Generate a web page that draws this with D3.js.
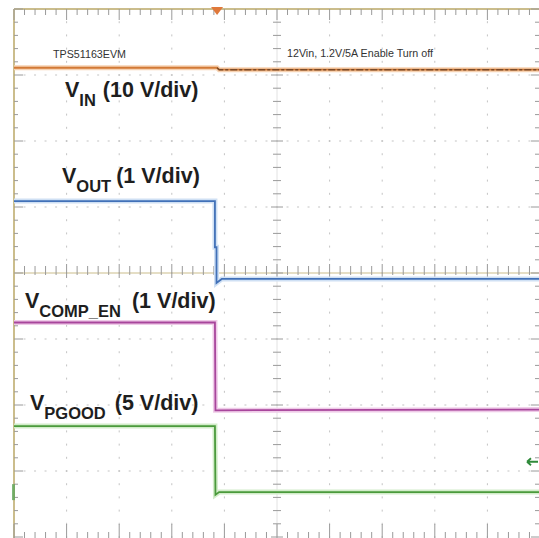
<!DOCTYPE html>
<html>
<head>
<meta charset="utf-8">
<script src="https://cdn.jsdelivr.net/npm/d3@7"></script>
<style>
  html, body { margin: 0; padding: 0; background: #fff; }
  svg { display: block; }
</style>
</head>
<body>
<svg width="539" height="538"></svg>
<script>
const width = 539;
const height = 538;

// screen: 10 x 8 divisions, values below are in divisions from screen centre
const xDivs = [0, 10];
const yDivs = [-4, 4];

// traces (time in div, level in div)
const vinT = [0, 3.86, 3.9, 10];
const vinV = [3.11, 3.11, 3.08, 3.08];

const voutT = [0, 3.82, 3.82, 3.85, 3.85, 3.95, 10];
const voutV = [1.09, 1.09, 0.39, 0.39, -0.15, -0.09, -0.09];

const compT = [0, 3.82, 3.83, 10];
const compV = [-0.75, -0.75, -2.08, -2.07];

const pgoodT = [0, 3.82, 3.83, 3.9, 10];
const pgoodV = [-2.32, -2.32, -3.36, -3.32, -3.32];

const triggerT = 3.86;
const triggerLevel = -2.86;
const pgoodGround = -3.32;

const headerLeft = "TPS51163EVM";
const headerRight = "12Vin, 1.2V/5A Enable Turn off";

const labelMain = ["V", "V", "V", "V"];
const labelSub = ["IN", "OUT", "COMP_EN", "PGOOD"];
const labelScale = ["(10 V/div)", "(1 V/div)", "(1 V/div)", "(5 V/div)"];

// layout
const plot = { left: 14, right: 540, top: 9, bottom: 537 };
const labelPos = [[65, 97], [62, 183], [25, 308], [30, 410]];
const labelGap = [7, 5, 11, 9];

const svg = d3.select("svg");

const x = d3.scaleLinear().domain(xDivs).range([plot.left, plot.right]);
const y = d3.scaleLinear().domain(yDivs).range([plot.bottom, plot.top]);

const frameColor = "#cbbd8c";
const tickColor = "#9a9a9a";
const dotColor = "#c4c4c4";

const minorX = d3.range(0, 10.001, 0.2);
const minorY = d3.range(-4, 4.001, 0.2);
const isMajor = v => Math.abs(v - Math.round(v)) < 1e-6;

const grid = svg.append("g");

// dotted graticule
const dots = [];
d3.range(1, 10).filter(d => d !== 5).forEach(gx => {
  minorY.forEach(v => dots.push({ x: x(gx) - 0.5, y: y(v) - 1, w: 1, h: 2 }));
});
d3.range(-3, 4).filter(d => d !== 0).forEach(gy => {
  minorX.forEach(v => dots.push({ x: x(v) - 1, y: y(gy) - 0.5, w: 2, h: 1 }));
});
grid.selectAll("rect.dot")
  .data(dots)
  .enter().append("rect")
  .attr("class", "dot")
  .attr("x", d => d.x)
  .attr("y", d => d.y)
  .attr("width", d => d.w)
  .attr("height", d => d.h)
  .attr("fill", dotColor);

// centre axes
grid.append("line")
  .attr("x1", x(0)).attr("x2", x(10))
  .attr("y1", y(0)).attr("y2", y(0))
  .attr("stroke", frameColor).attr("stroke-width", 1.2);
grid.append("line")
  .attr("x1", x(5)).attr("x2", x(5))
  .attr("y1", y(4)).attr("y2", y(-4))
  .attr("stroke", "#e2e2e2").attr("stroke-width", 1);

grid.selectAll("line.cxt")
  .data(minorX)
  .enter().append("line")
  .attr("x1", d => x(d)).attr("x2", d => x(d))
  .attr("y1", d => y(0) - (isMajor(d) ? 9 : 7))
  .attr("y2", d => y(0) + (isMajor(d) ? 5 : 2))
  .attr("stroke", tickColor).attr("stroke-width", 1);

grid.selectAll("line.cyt")
  .data(minorY)
  .enter().append("line")
  .attr("x1", d => x(5) - (isMajor(d) ? 6 : 4))
  .attr("x2", d => x(5) + (isMajor(d) ? 6 : 4))
  .attr("y1", d => y(d)).attr("y2", d => y(d))
  .attr("stroke", tickColor).attr("stroke-width", 1);

// frame with ticks
grid.append("line")
  .attr("x1", x(0)).attr("x2", x(10))
  .attr("y1", y(4)).attr("y2", y(4))
  .attr("stroke", frameColor).attr("stroke-width", 2);
grid.append("line")
  .attr("x1", x(0)).attr("x2", x(0))
  .attr("y1", y(4)).attr("y2", height)
  .attr("stroke", frameColor).attr("stroke-width", 2);

grid.selectAll("line.tt")
  .data(minorX)
  .enter().append("line")
  .attr("x1", d => x(d)).attr("x2", d => x(d))
  .attr("y1", y(4))
  .attr("y2", d => y(4) + (isMajor(d) ? 11 : 6))
  .attr("stroke", tickColor).attr("stroke-width", 1);

grid.selectAll("line.bt")
  .data(minorX)
  .enter().append("line")
  .attr("x1", d => x(d)).attr("x2", d => x(d))
  .attr("y1", y(-4) + 1)
  .attr("y2", d => y(-4) - (isMajor(d) ? 13 : 5))
  .attr("stroke", tickColor).attr("stroke-width", 1);

grid.selectAll("line.lt")
  .data(minorY)
  .enter().append("line")
  .attr("x1", x(0))
  .attr("x2", d => x(0) + (isMajor(d) ? 9 : 4))
  .attr("y1", d => y(d)).attr("y2", d => y(d))
  .attr("stroke", tickColor).attr("stroke-width", 1);

grid.selectAll("line.rt")
  .data(minorY)
  .enter().append("line")
  .attr("x1", x(10))
  .attr("x2", d => x(10) - (isMajor(d) ? 9 : 5))
  .attr("y1", d => y(d)).attr("y2", d => y(d))
  .attr("stroke", tickColor).attr("stroke-width", 1);

// traces
const line = d3.line()
  .x(d => x(d[0]))
  .y(d => y(d[1]));

const traces = [
  { t: vinT, v: vinV, color: "#d27a36", halo: "#f6d2b2" },
  { t: voutT, v: voutV, color: "#4271b8", halo: "#cfe0f4" },
  { t: compT, v: compV, color: "#a8469c", halo: "#efcbe8" },
  { t: pgoodT, v: pgoodV, color: "#4b9a3c", halo: "#d2ecc9" }
];

const tg = svg.append("g");
traces.forEach(tr => {
  const pts = tr.t.map((t, i) => [t, tr.v[i]]);
  tg.append("path")
    .datum(pts)
    .attr("fill", "none")
    .attr("stroke", tr.halo)
    .attr("stroke-width", 5)
    .attr("d", line);
  tg.append("path")
    .datum(pts)
    .attr("fill", "none")
    .attr("stroke", tr.color)
    .attr("stroke-width", 1.8)
    .attr("d", line);
});

// noisy part of VIN after the trigger
tg.append("path")
  .datum(vinT.map((t, i) => [t, vinV[i]]).filter(d => d[0] >= triggerT))
  .attr("fill", "none")
  .attr("stroke", "#7a4a28")
  .attr("stroke-width", 1.4)
  .attr("stroke-dasharray", "7,2,3,2")
  .attr("d", line);

// trigger position marker
tg.append("path")
  .attr("d", `M${x(triggerT) - 6},${y(4) - 2} L${x(triggerT) + 6},${y(4) - 2} L${x(triggerT)},${y(4) + 6} Z`)
  .attr("fill", "#e0783a");

// trigger level arrow (right edge)
const ty = y(triggerLevel);
tg.append("path")
  .attr("d", `M${width - 1},${ty} L${width - 12},${ty} M${width - 12},${ty} L${width - 8},${ty - 3.5} M${width - 12},${ty} L${width - 8},${ty + 3.5}`)
  .attr("stroke", "#2f8a3a")
  .attr("stroke-width", 1.8)
  .attr("fill", "none");

// channel ground marker (left edge)
tg.append("rect")
  .attr("x", x(0) - 2)
  .attr("y", y(pgoodGround) - 8)
  .attr("width", 3)
  .attr("height", 16)
  .attr("fill", "#5fa65a")
  .attr("opacity", 0.8);

// header texts
svg.append("text")
  .attr("x", 53).attr("y", 58)
  .attr("font-family", "'Liberation Sans Narrow', 'Liberation Sans', Arial, sans-serif")
  .attr("font-size", 11.5)
  .attr("fill", "#333")
  .attr("textLength", 73)
  .attr("lengthAdjust", "spacingAndGlyphs")
  .text(headerLeft);

svg.append("text")
  .attr("x", 287).attr("y", 57)
  .attr("font-family", "'Liberation Sans Narrow', 'Liberation Sans', Arial, sans-serif")
  .attr("font-size", 11.5)
  .attr("fill", "#333")
  .attr("textLength", 146)
  .attr("lengthAdjust", "spacingAndGlyphs")
  .text(headerRight);

// channel labels
labelMain.forEach((m, i) => {
  const t = svg.append("text")
    .attr("x", labelPos[i][0])
    .attr("y", labelPos[i][1])
    .attr("font-family", "'Liberation Sans', Arial, sans-serif")
    .attr("font-weight", "bold")
    .attr("font-size", 21.5)
    .attr("fill", "#1e1e1e");
  t.append("tspan").text(m);
  t.append("tspan").attr("dy", 9).attr("font-size", 16.5).text(labelSub[i]);
  t.append("tspan").attr("dy", -9).attr("dx", labelGap[i]).text(labelScale[i]);
});
</script>
</body>
</html>
